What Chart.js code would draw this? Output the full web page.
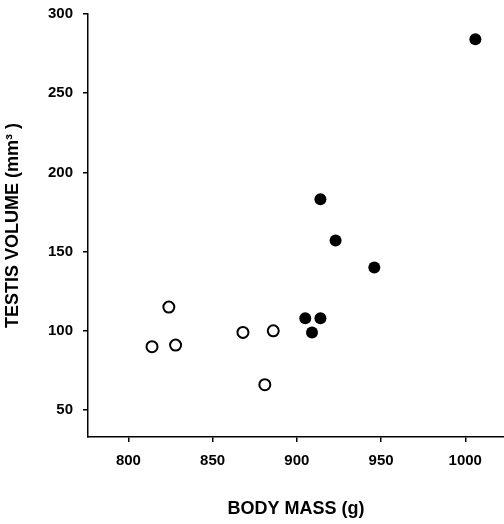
<!DOCTYPE html>
<html>
<head>
<meta charset="utf-8">
<script src="https://cdn.jsdelivr.net/npm/chart.js@4/dist/chart.umd.min.js"></script>
<style>
  html, body { margin: 0; padding: 0; background: #fff; }
  #wrap { width: 504px; height: 524px; }
</style>
</head>
<body>
<div id="wrap"><canvas id="chart" width="504" height="524"></canvas></div>
<script>
// ---- Data ----

// open circles
const openMass   = [814, 824, 828, 868, 881, 886]
const openVolume = [90, 115, 91, 99, 66, 100]

// filled circles
const filledMass   = [905, 909, 914, 914, 923, 946, 1006]
const filledVolume = [108, 99, 108, 183, 157, 140, 284]

const xTicks = [800, 850, 900, 950, 1000]
const yTicks = [50, 100, 150, 200, 250, 300]

const xTitle = 'BODY MASS (g)'
const yTitle = 'TESTIS VOLUME (mm\u00B3 )'

// ---- Chart ----

const FONT = "'Liberation Sans', Arial, Helvetica, sans-serif"

const toPoints = (xs, ys) => xs.map((x, i) => ({ x, y: ys[i] }))

const axisBase = {
  grid:   { display: true, drawOnChartArea: false, drawTicks: true, tickLength: 5, color: '#000', lineWidth: 1.5 },
  border: { display: true, color: '#000', width: 1.5 },
}

// fixed box sizes, no extra padding for label overflow
function fitX(s) { s.height = 87; s.paddingLeft = 0; s.paddingRight = 0 }
function fitY(s) { s.width = 88; s.paddingTop = 0; s.paddingBottom = 0 }

new Chart(document.getElementById('chart').getContext('2d'), {
  type: 'scatter',
  data: {
    datasets: [
      {
        label: 'open',
        data: toPoints(openMass, openVolume),
        pointRadius: 5.5,
        pointBorderWidth: 2,
        pointBackgroundColor: '#fff',
        pointBorderColor: '#000'
      },
      {
        label: 'filled',
        data: toPoints(filledMass, filledVolume),
        pointRadius: 6,
        pointBorderWidth: 0,
        pointBackgroundColor: '#000',
        pointBorderColor: '#000'
      }
    ]
  },
  options: {
    responsive: false,
    animation: false,
    layout: { autoPadding: false, padding: { top: 14, right: 0, bottom: 0, left: 0 } },
    plugins: { legend: { display: false }, tooltip: { enabled: false } },
    scales: {
      x: {
        ...axisBase,
        type: 'linear',
        min: 776,
        max: 1023,
        afterBuildTicks: s => { s.ticks = xTicks.map(v => ({ value: v })) },
        afterFit: fitX,
        ticks: { color: '#000', padding: 10, maxRotation: 0, callback: v => String(v), font: { family: FONT, size: 15, weight: 'bold' } },
        title: { display: true, text: xTitle, color: '#000', padding: 4, font: { family: FONT, size: 18, weight: 'bold' } }
      },
      y: {
        ...axisBase,
        type: 'linear',
        min: 33,
        max: 300,
        afterBuildTicks: s => { s.ticks = yTicks.map(v => ({ value: v })) },
        afterFit: fitY,
        ticks: { color: '#000', padding: 10, callback: v => String(v), font: { family: FONT, size: 15, weight: 'bold' } },
        title: { display: true, text: yTitle, color: '#000', padding: 2, font: { family: FONT, size: 18, weight: 'bold' } }
      }
    }
  }
})
</script>
</body>
</html>
